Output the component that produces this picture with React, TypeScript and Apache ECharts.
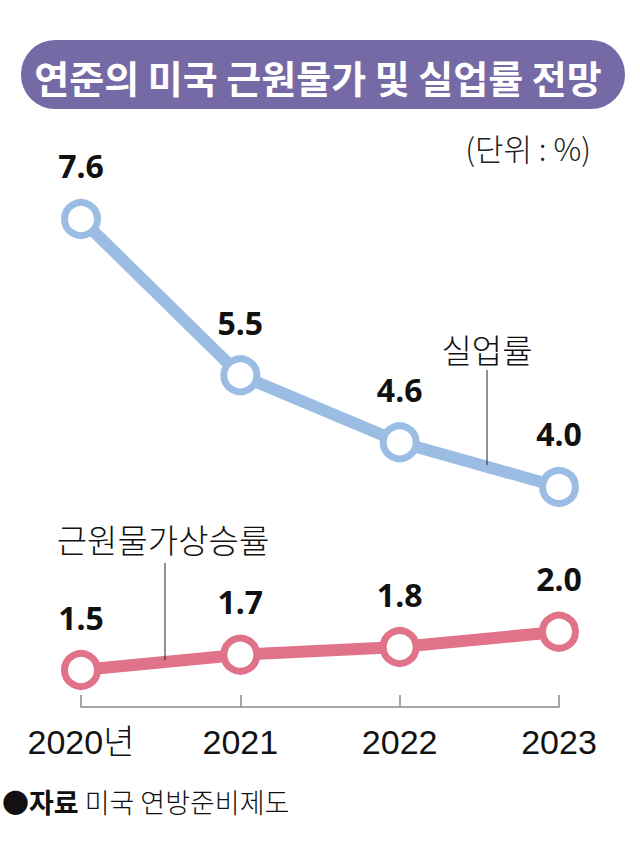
import React, { useEffect, useRef } from "react";
import * as echarts from "echarts";

const years = ["2020년", "2021", "2022", "2023"];
const unemployment = [7.6, 5.5, 4.6, 4.0];
const coreInflation = [1.5, 1.7, 1.8, 2.0];
const titleText = "연준의 미국 근원물가 및 실업률 전망";
const unitText = "(단위 : %)";
const unemploymentName = "실업률";
const inflationName = "근원물가상승률";
const sourceLabel = "자료";
const sourceText = "미국 연방준비제도";

const BLUE = "#9bbde3";
const PINK = "#e0728a";
const KR = "'Noto Sans CJK KR', 'Noto Sans', sans-serif";
const NUM = "'Noto Sans', 'Noto Sans CJK KR', sans-serif";

export default function App() {
  const ref = useRef<HTMLDivElement>(null);
  useEffect(() => {
    if (!ref.current) return;
    const chart = echarts.init(ref.current, undefined, { renderer: "svg" });
    const valueLabel = {
      show: true,
      position: "top",
      distance: 17,
      color: "#111",
      fontSize: 32,
      fontWeight: "bold",
      fontFamily: NUM,
      formatter: (p: any) => Number(p.value).toFixed(1),
    };
    chart.setOption({
      animation: false,
      backgroundColor: "#ffffff",
      grid: { left: 81, right: 81, top: 150, bottom: 141, containLabel: false },
      xAxis: {
        type: "category",
        data: years,
        boundaryGap: false,
        axisLine: { show: true, lineStyle: { color: "#8a8a8a", width: 1.5 } },
        axisTick: { show: true, inside: true, length: 12, lineStyle: { color: "#8a8a8a", width: 1.5 } },
        axisLabel: {
          margin: 18,
          color: "#111",
          fontSize: 34,
          fontWeight: 300,
          fontFamily: "'Liberation Sans Narrow', 'Liberation Sans', 'Noto Sans CJK KR', sans-serif",
        },
        splitLine: { show: false },
      },
      yAxis: [
        { type: "value", min: 1.043, max: 8.527, show: false, splitLine: { show: false } },
        { type: "value", min: 1.017, max: 8.289, show: false, splitLine: { show: false } },
      ],
      series: [
        {
          name: unemploymentName,
          type: "line",
          yAxisIndex: 0,
          data: unemployment,
          symbol: "circle",
          symbolSize: 33,
          lineStyle: { color: BLUE, width: 12 },
          itemStyle: { color: "#ffffff", borderColor: BLUE, borderWidth: 7 },
          label: valueLabel,
          z: 3,
        },
        {
          name: inflationName,
          type: "line",
          yAxisIndex: 1,
          data: coreInflation,
          symbol: "circle",
          symbolSize: 33,
          lineStyle: { color: PINK, width: 12 },
          itemStyle: { color: "#ffffff", borderColor: PINK, borderWidth: 7 },
          label: valueLabel,
          z: 3,
        },
      ],
      graphic: [
        {
          type: "rect",
          shape: { x: 21, y: 40, width: 604, height: 69, r: 34 },
          style: { fill: "#766aa6" },
        },
        {
          type: "text",
          x: 318,
          y: 76,
          style: {
            text: titleText,
            fill: "#ffffff",
            fontSize: 38,
            fontWeight: "bold",
            fontFamily: KR,
            align: "center",
            verticalAlign: "middle",
          },
        },
        {
          type: "text",
          x: 591,
          y: 147,
          style: {
            text: unitText,
            fill: "#222",
            fontSize: 31,
            fontWeight: 300,
            fontFamily: KR,
            align: "right",
            verticalAlign: "middle",
          },
        },
        {
          type: "text",
          x: 487,
          y: 349,
          style: {
            text: unemploymentName,
            fill: "#111",
            fontSize: 33,
            fontWeight: 300,
            fontFamily: KR,
            align: "center",
            verticalAlign: "middle",
          },
        },
        {
          type: "line",
          shape: { x1: 487, y1: 370, x2: 487, y2: 465 },
          style: { stroke: "#222", lineWidth: 1 },
          z: 10,
        },
        {
          type: "text",
          x: 163,
          y: 539,
          style: {
            text: inflationName,
            fill: "#111",
            fontSize: 33,
            fontWeight: 300,
            fontFamily: KR,
            align: "center",
            verticalAlign: "middle",
          },
        },
        {
          type: "line",
          shape: { x1: 165, y1: 563, x2: 165, y2: 660 },
          style: { stroke: "#222", lineWidth: 1 },
          z: 10,
        },
        {
          type: "text",
          x: 2,
          y: 801,
          style: {
            text: "{b|●" + sourceLabel + "} " + sourceText,
            fill: "#111",
            fontSize: 27,
            fontWeight: 300,
            fontFamily: KR,
            align: "left",
            verticalAlign: "middle",
            rich: {
              b: { fontSize: 27, fontWeight: "bold", fontFamily: KR, fill: "#111" },
            },
          },
        },
      ],
    });
    return () => chart.dispose();
  }, []);
  return (
    <div
      ref={ref}
      style={{ position: "fixed", left: 0, top: 0, width: 640, height: 848, background: "#fff" }}
    />
  );
}
